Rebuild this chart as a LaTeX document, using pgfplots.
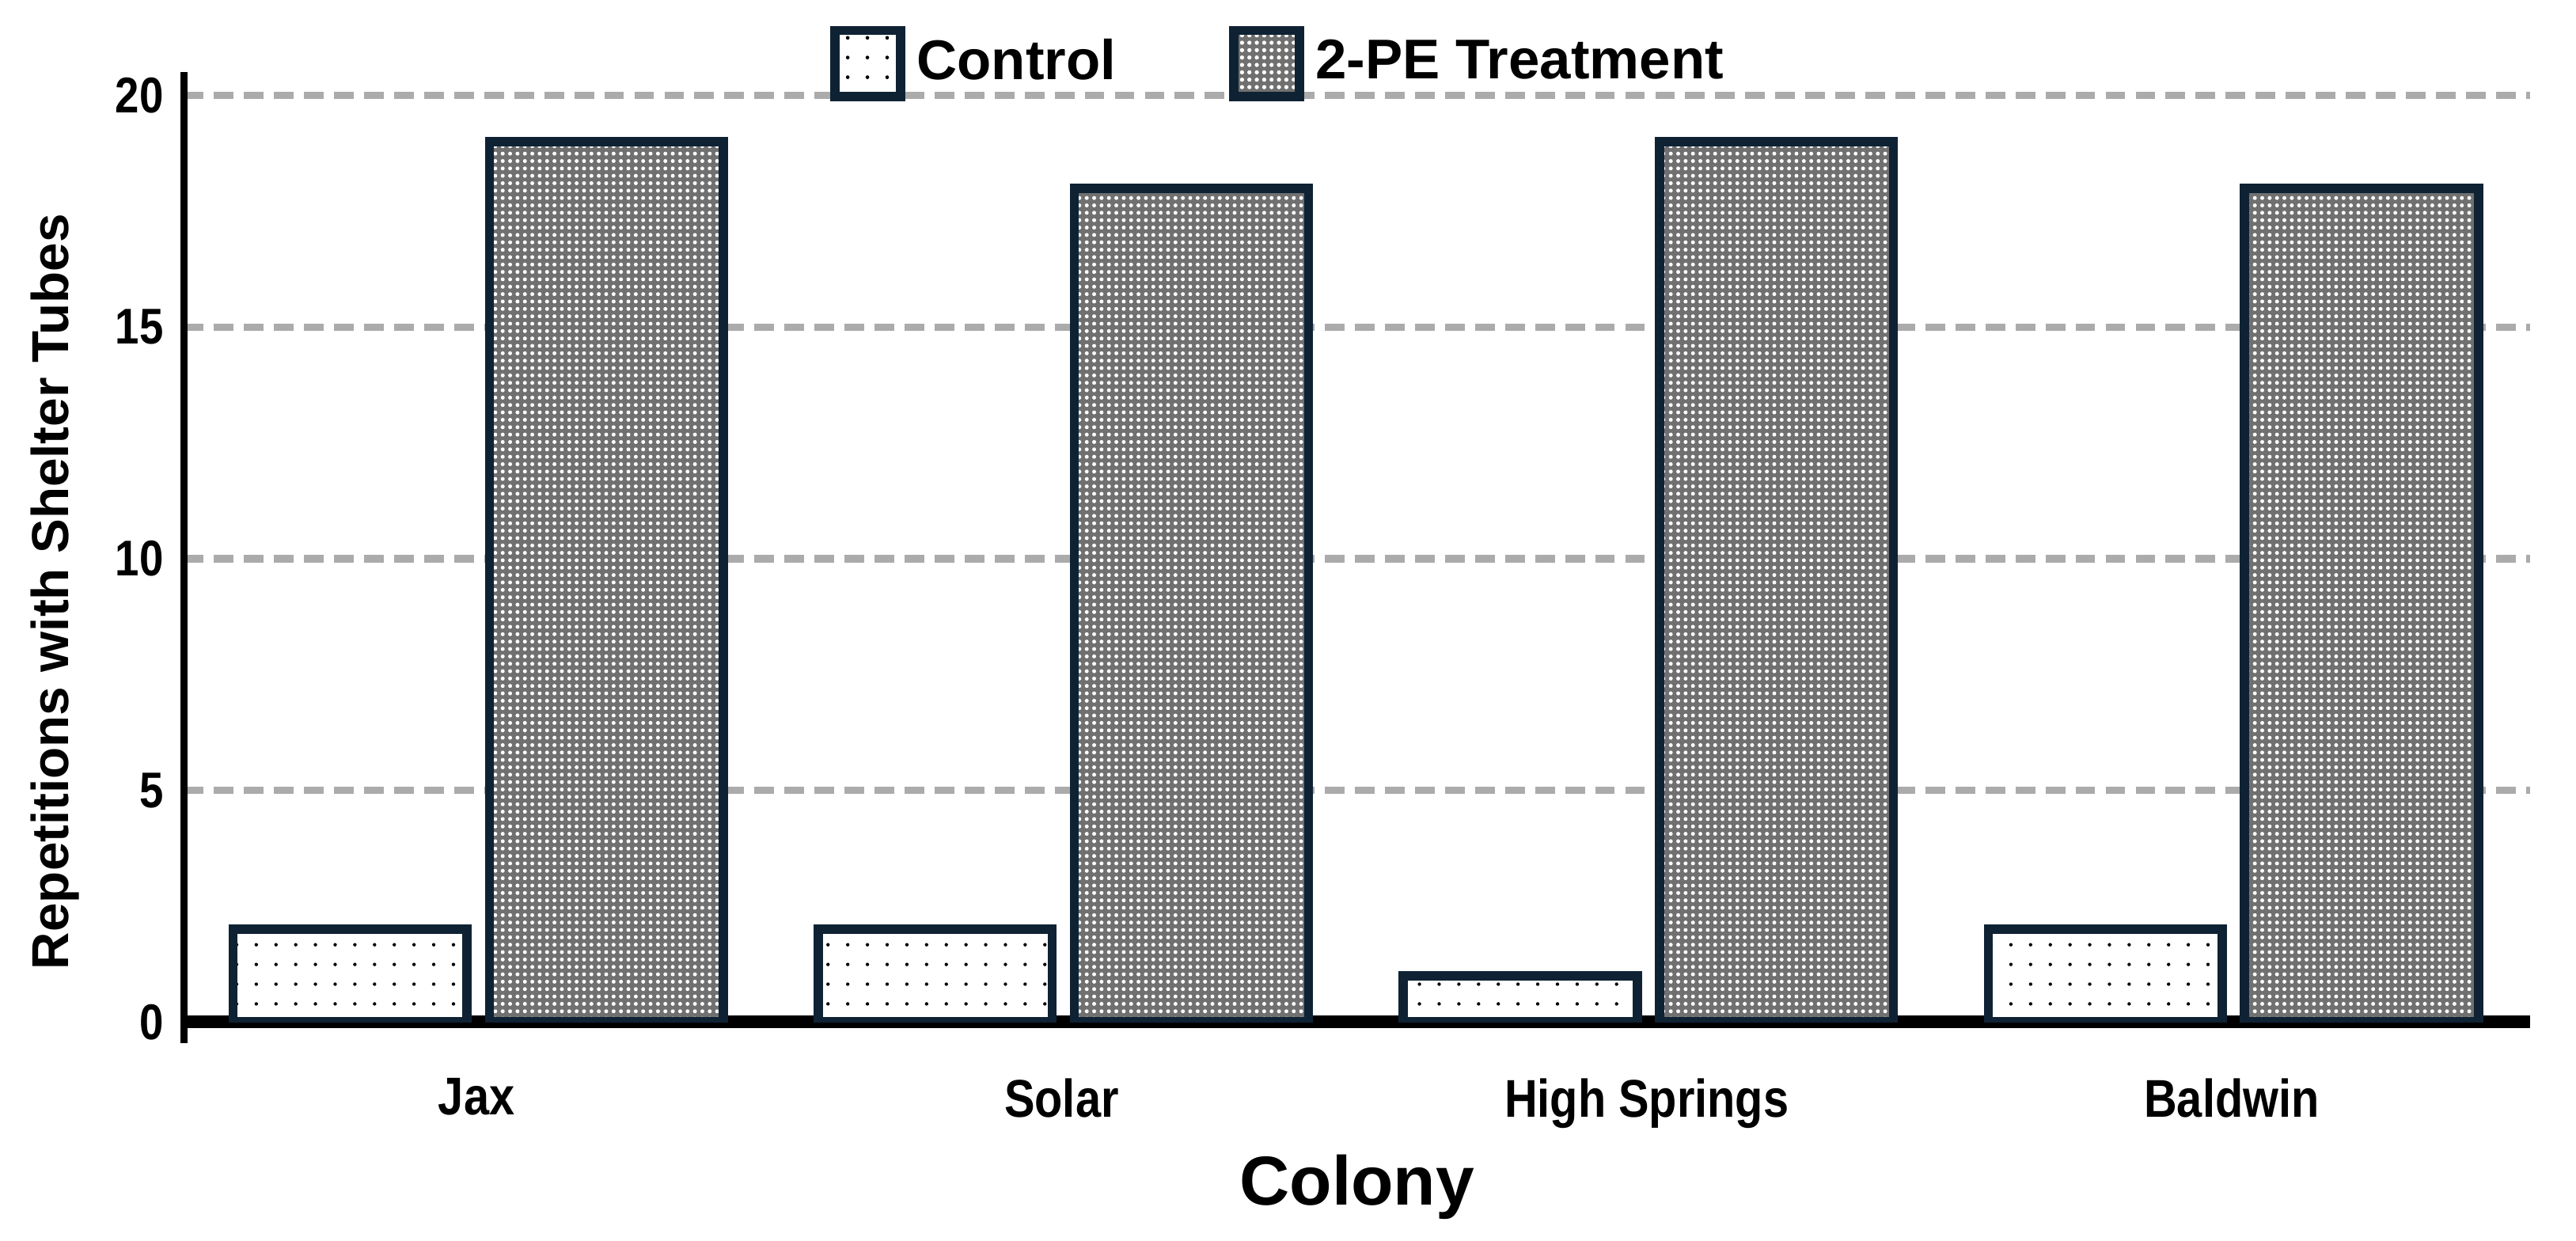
\documentclass[border=0pt]{standalone}
\usepackage{pgfplots}
\pgfplotsset{compat=1.18}
\usepackage{pgfplotstable}
\usepackage{fontspec}
\setmainfont{Liberation Sans}
\newfontfamily\narrow[FakeStretch=0.86]{Liberation Sans}
\usetikzlibrary{patterns,patterns.meta}
\definecolor{edge}{HTML}{0E2234}
\definecolor{gridc}{HTML}{ABABAB}
\definecolor{treatfill}{HTML}{707070}

\pgfplotstableread{
x control treat
0 2 19
1 2 18
2 1 19
3 2 18
}\data

\begin{document}
\begin{tikzpicture}
\begin{axis}[
  name=ax,
  scale only axis,
  width=14.28cm, height=5.78cm,
  xmin=-0.5, xmax=3.51, ymin=0, ymax=20.5,
  axis lines=left,
  axis line style={-, black, line width=1.3pt},
  x axis line style={line width=2.2pt},
  y axis line style={shorten <=-0.13cm},
  xtick={0,1,2,3},
  xticklabels={Jax,Solar,High Springs,Baldwin},
  ytick={0,5,10,15,20},
  major tick length=0pt,
  ymajorgrids,
  grid style={gridc, line width=1.3pt, dash pattern=on 3.4pt off 1.8pt},
  /pgf/number format/assume math mode=true,
  y tick label style={font=\narrow\bfseries\fontsize{8.7}{10}\selectfont},
  x tick label style={font=\narrow\bfseries\fontsize{9.2}{11}\selectfont, yshift=-0.22cm},
  xlabel={Colony},
  xlabel style={font=\bfseries\fontsize{12}{14}\selectfont, yshift=0.08cm},
  ylabel={Repetitions with Shelter Tubes},
  ylabel style={font=\bfseries\fontsize{9}{11}\selectfont, at={(ticklabel cs:0.453)}, yshift=-0.02cm},
  ybar, bar width=0.40,
  legend columns=2,
  legend style={at={(0.275,1.05)}, anchor=north west, draw=none, fill=none,
    inner sep=0pt, font=\bfseries\fontsize{9.7}{12}\selectfont,
    /tikz/every even column/.append style={column sep=0.62cm}},
]
\addplot[bar shift=-0.216, draw=edge, line width=1.6pt, fill=white,
  postaction={pattern={Dots[distance=1.2mm, radius=0.3pt]}, pattern color=black},
  legend image code/.code={\draw[draw=edge, line width=1.6pt, fill=white,
  postaction={pattern={Dots[distance=1.2mm, radius=0.3pt]}, pattern color=black}] (0cm,-0.2cm) rectangle (0.4cm,0.2cm);}]
  table[x=x, y=control] {\data};
\addlegendentry{Control}
\addplot[bar shift=0.222, draw=edge, line width=1.6pt, fill=treatfill,
  postaction={pattern={Dots[distance=0.45mm, radius=0.12mm]}, pattern color=white},
  legend image code/.code={\draw[draw=edge, line width=1.6pt, fill=treatfill,
  postaction={pattern={Dots[distance=0.45mm, radius=0.12mm]}, pattern color=white}] (0cm,-0.2cm) rectangle (0.4cm,0.2cm);}]
  table[x=x, y=treat] {\data};
\addlegendentry{2-PE Treatment}
\end{axis}
\pgfresetboundingbox
\path ([xshift=-1.12cm, yshift=-1.33cm]ax.south west) rectangle ([xshift=0.28cm, yshift=0.44cm]ax.north east);
\end{tikzpicture}
\end{document}
